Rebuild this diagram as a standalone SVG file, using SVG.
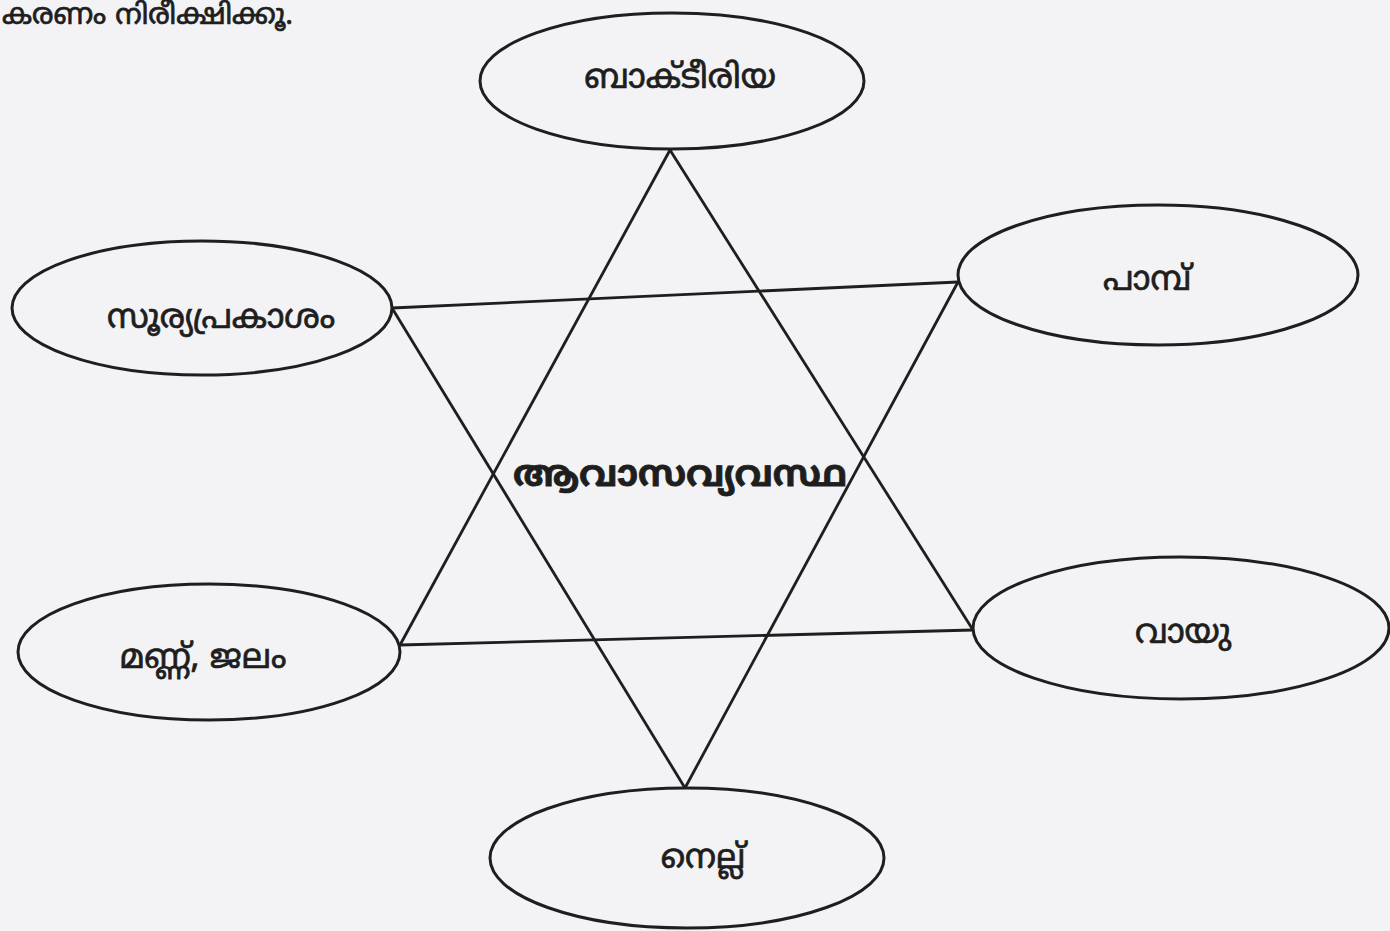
<svg xmlns="http://www.w3.org/2000/svg" width="1390" height="931" viewBox="0 0 1390 931">
<style>
.node ellipse{fill:none;stroke:#1e1e1e;stroke-width:3}
.lbl{font-family:"Noto Sans Malayalam","Noto Sans","DejaVu Sans",sans-serif;font-size:34px;fill:#1e1e1e;stroke:#1e1e1e;stroke-width:0.7;text-anchor:middle}
.edge{stroke:#1e1e1e;stroke-width:2.8;fill:none}
</style>
<rect width="1390" height="931" fill="#f3f3f5"/>
<text class="lbl" x="2" y="24" style="text-anchor:start;font-size:29px">കരണം നിരീക്ഷിക്കൂ.</text>
<g id="connectors">
<line class="edge" x1="670" y1="150" x2="400" y2="645"/>
<line class="edge" x1="670" y1="150" x2="973" y2="630"/>
<line class="edge" x1="400" y1="645" x2="973" y2="630"/>
<line class="edge" x1="392" y1="308" x2="958" y2="282"/>
<line class="edge" x1="392" y1="308" x2="685" y2="788"/>
<line class="edge" x1="958" y1="282" x2="685" y2="788"/>
</g>
<g id="n-bacteria" class="node"><ellipse cx="672" cy="81" rx="192" ry="68"/><text class="lbl" x="680" y="88">ബാക്ടീരിയ</text></g>
<g id="n-sunlight" class="node"><ellipse cx="202" cy="308" rx="190" ry="67"/><text class="lbl" x="221" y="328">സൂര്യപ്രകാശം</text></g>
<g id="n-snake" class="node"><ellipse cx="1158" cy="275" rx="200" ry="70"/><text class="lbl" x="1147" y="290">പാമ്പ്</text></g>
<g id="n-soil" class="node"><ellipse cx="209" cy="652" rx="191" ry="68"/><text class="lbl" x="203" y="668">മണ്ണ്, ജലം</text></g>
<g id="n-air" class="node"><ellipse cx="1181" cy="628" rx="208" ry="71"/><text class="lbl" x="1183" y="643">വായു</text></g>
<g id="n-paddy" class="node"><ellipse cx="687" cy="858" rx="197" ry="70"/><text class="lbl" x="703" y="868">നെല്ല്</text></g>
<g id="n-center"><text class="lbl" x="680" y="486" style="font-weight:bold;font-size:36px;stroke-width:0.8">ആവാസവ്യവസ്ഥ</text></g>
</svg>
